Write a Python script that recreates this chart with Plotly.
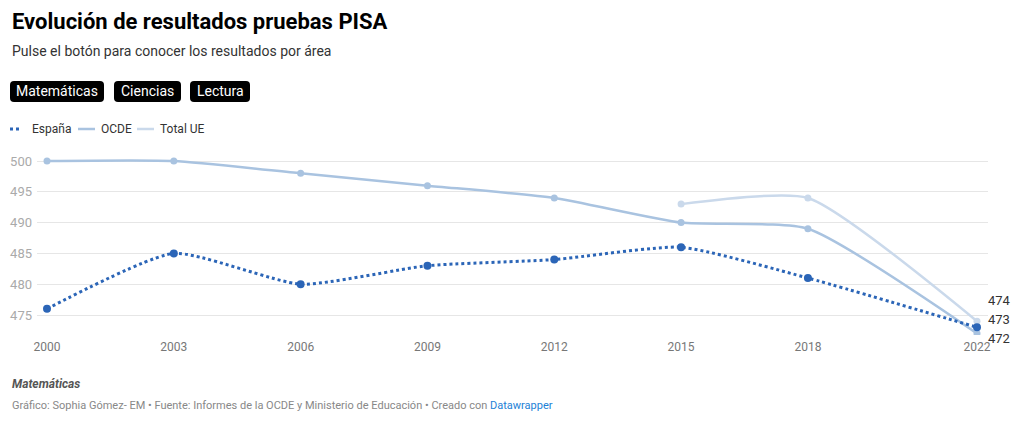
import plotly.graph_objects as go

years = [2000, 2003, 2006, 2009, 2012, 2015, 2018, 2022]
espana = [476, 485, 480, 483, 484, 486, 481, 473]
ocde = [500, 500, 498, 496, 494, 490, 489, 472]
ue_years = [2015, 2018, 2022]
total_ue = [493, 494, 474]
y_ticks = [475, 480, 485, 490, 495, 500]
x_ticks = years
areas = ["Matemáticas", "Ciencias", "Lectura"]

C_ES = "#2b65b7"
C_OC = "#a9c3e0"
C_UE = "#cad9eb"
FONT = "Roboto"
SMOOTH = 0.55

fig = go.Figure()
fig.add_trace(go.Scatter(x=ue_years, y=total_ue, name="Total UE", mode="lines+markers",
                         line=dict(color=C_UE, width=2.5, shape="spline", smoothing=SMOOTH),
                         marker=dict(size=7, color=C_UE)))
fig.add_trace(go.Scatter(x=years, y=ocde, name="OCDE", mode="lines+markers",
                         line=dict(color=C_OC, width=2.5, shape="spline", smoothing=SMOOTH),
                         marker=dict(size=7, color=C_OC)))
fig.add_trace(go.Scatter(x=years, y=espana, name="España", mode="lines+markers",
                         line=dict(color=C_ES, width=3, dash="dot", shape="spline", smoothing=SMOOTH),
                         marker=dict(size=8, color=C_ES)))

# page offset (browser body margin)
OFF = 8
PW, PH = 1024, 423
W, H = PW - 2 * OFF, PH - 2 * OFF
# plot area in page pixels
PL, PR, PT, PB = 37, 988, 150, 335
L = PL - OFF
R = W - (PR - OFF)
T = PT - OFF
B = H - (PB - OFF)
pw, ph = W - L - R, H - T - B


def px(xp):
    return (xp - OFF - L) / pw


def py(yp):
    # yp: page pixel from top
    return ((H - (yp - OFF)) - B) / ph


annotations = []
shapes = []

# end labels
end_vals = [(total_ue[-1], 21), (espana[-1], 8), (ocde[-1], -5)]
for v, ys in end_vals:
    annotations.append(dict(x=years[-1], y=v, xref="x", yref="y", text=str(v),
                            showarrow=False, xanchor="left", xshift=9, yshift=ys,
                            font=dict(family=FONT, size=13, color="#333333")))

# title & subtitle
annotations.append(dict(x=px(10), y=py(21), xref="paper", yref="paper",
                        text="<b>Evolución de resultados pruebas PISA</b>",
                        showarrow=False, xanchor="left", yanchor="middle",
                        font=dict(family=FONT, size=22, color="#000000")))
annotations.append(dict(x=px(10), y=py(51), xref="paper", yref="paper",
                        text="Pulse el botón para conocer los resultados por área",
                        showarrow=False, xanchor="left", yanchor="middle",
                        font=dict(family=FONT, size=14, color="#333333")))
# footer
annotations.append(dict(x=px(10), y=py(384), xref="paper", yref="paper", text="<b><i>Matemáticas</i></b>",
                        showarrow=False, xanchor="left", yanchor="middle",
                        font=dict(family=FONT, size=12, color="#555555")))
annotations.append(dict(x=px(10), y=py(405), xref="paper", yref="paper",
                        text="Gráfico: Sophia Gómez- EM • Fuente: Informes de la OCDE y Ministerio de Educación • Creado con <span style='color:#1d81d6'>Datawrapper</span>",
                        showarrow=False, xanchor="left", yanchor="middle",
                        font=dict(family=FONT, size=11, color="#888888")))

# legend
legend_items = [("España", C_ES, "dot", 10, 22, 30), ("OCDE", C_OC, "solid", 78, 95, 99),
                ("Total UE", C_UE, "solid", 137, 154, 158)]
for name, col, dash, x0, x1, tx in legend_items:
    shapes.append(dict(type="line", xref="paper", yref="paper", x0=px(x0), x1=px(x1), y0=py(129), y1=py(129),
                       line=dict(color=col, width=3 if dash == "dot" else 2.5, dash=dash)))
    annotations.append(dict(x=px(tx), y=py(129), xref="paper", yref="paper", text=name, showarrow=False,
                            xanchor="left", yanchor="middle", font=dict(family=FONT, size=12, color="#333333")))

# buttons (rounded black boxes with white labels)
btn_pos = [(10, 104), (114, 181), (190, 250)]
by0, by1, r = 81, 102, 4
for (x0, x1), area in zip(btn_pos, areas):
    X0, X1 = px(x0), px(x1)
    Y0, Y1 = py(by1), py(by0)
    rx = r / pw
    ry = r / ph
    path = (f"M {X0+rx},{Y0} L {X1-rx},{Y0} Q {X1},{Y0} {X1},{Y0+ry} L {X1},{Y1-ry} Q {X1},{Y1} {X1-rx},{Y1} "
            f"L {X0+rx},{Y1} Q {X0},{Y1} {X0},{Y1-ry} L {X0},{Y0+ry} Q {X0},{Y0} {X0+rx},{Y0} Z")
    shapes.append(dict(type="path", xref="paper", yref="paper", path=path,
                       fillcolor="#000000", line=dict(width=0), layer="above"))
    annotations.append(dict(x=(X0 + X1) / 2, y=(Y0 + Y1) / 2, xref="paper", yref="paper", text=area,
                            showarrow=False, xanchor="center", yanchor="middle",
                            font=dict(family=FONT, size=14, color="#ffffff")))

fig.update_layout(
    width=W, height=H,
    margin=dict(l=L, r=R, t=T, b=B, autoexpand=False),
    paper_bgcolor="white", plot_bgcolor="white",
    showlegend=False,
    font=dict(family=FONT),
    xaxis=dict(range=[2000 - 10 / 42.27, 2022 + 11 / 42.27], tickvals=x_ticks, ticktext=[str(v) for v in x_ticks],
               showgrid=False, zeroline=False, showline=False, ticks="", ticklabelstandoff=3,
               tickfont=dict(family=FONT, size=12, color="#777777")),
    yaxis=dict(range=[475 - 20 / 6.16, 500 + 11 / 6.16], tickvals=y_ticks, ticktext=[str(v) for v in y_ticks],
               showgrid=True, gridcolor="#e6e6e6", gridwidth=1, zeroline=False, showline=False, ticks="",
               ticklabelstandoff=4,
               tickfont=dict(family=FONT, size=13, color="#aaaaaa")),
    annotations=annotations, shapes=shapes,
)

fig.write_html("out.html")
